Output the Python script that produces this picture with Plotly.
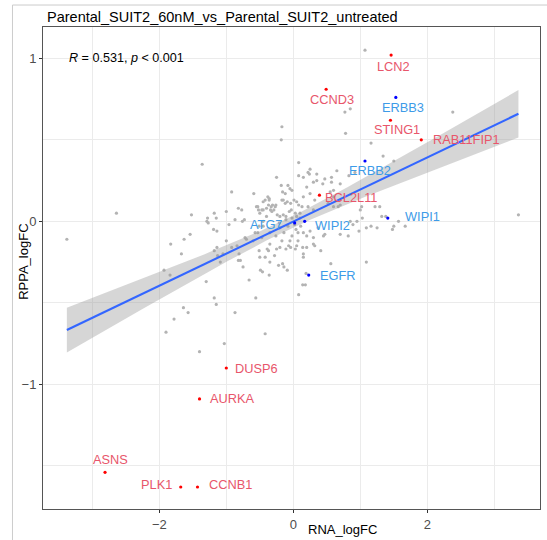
import numpy as np
import plotly.graph_objects as go

# ---------------- data ----------------
title_text = "Parental_SUIT2_60nM_vs_Parental_SUIT2_untreated"
x_title = "RNA_logFC"
y_title = "RPPA_logFC"
x_ticks = [-2, 0, 2]
y_ticks = [-1, 0, 1]

# background (unlabelled) proteins: RNA logFC / RPPA logFC
rna_bg = [
    -3.38, -2.64, -1.52, -1.63, -1.54, -1.83, -1.67, -1.93, -1.84, -1.64, -1.57, -1.78, -1.15, -0.87,
    -1.90, -1.40, -1.03, -0.42, -1.30, -1.18, -0.56, -0.66, -0.75, -0.82, -0.79, -1.09, -1.18, -1.13,
    -1.00, -0.92, -0.84, -1.19, -1.14, -0.96, -1.29, -0.87, -0.73, -0.76, -0.70, -0.51, -0.49, -0.46,
    -0.35, -0.42, -0.39, -0.35, -0.22, -0.16, -0.14, -0.09, -0.28, -0.25, -0.20, 0.08,
    -0.17, -0.18, -1.36, 0.08, 0.08, -0.25, -0.18, -0.08, -0.05, -0.02, -0.92, -0.59, -0.38, -0.36,
    -0.16, -0.12, -0.42, -0.53, -0.47, -0.45, -0.82, -1.00, -1.18, -1.28,
    1.07, 0.77, 0.85, 0.78, 2.38, 3.36, 1.67, 1.16, 1.34, 1.50, 0.92, 0.65, 0.57, 0.83, 0.25, 0.24,
    0.35, 0.44, 0.55, 0.60, 1.02, 1.22, 1.29, 0.52, 0.60, 0.70, 0.95, 0.89, 1.09, 1.25, 1.16, 1.50,
    0.82, 0.70, 0.56, 1.09, 0.19, 0.14, 0.18, 0.98, 1.03, 1.32, 1.38, 1.57, 1.48, 0.41,
    -0.17, -0.15, -0.12, -0.09, -0.04, 0.01, 0.05, 0.08, -0.37, -0.33, -0.34, -0.26, -0.29, -0.50,
    -0.40, -0.32, -0.24, -0.20, -0.15, -0.11, -0.06, -0.02, 0.03, 0.05,
    -0.11, -0.07, -0.04, 0.03, 0.05, -0.20, -0.14, -0.08, -0.02, -0.26, -0.35, -0.17, -0.05, 0.07,
    0.07, -0.11, -0.21, -0.45, -0.53, -0.60, -0.47,
    0.30, 0.32, 0.20, 0.14, 0.15, 0.15, 0.45, 0.47, 0.30, 0.37, 0.15, 0.20, 0.25, 0.85,
    0.15, 0.22, 0.35, 0.20, 0.30, 0.47, 0.57, 0.15, 0.25, 0.32, 0.60, 0.70, 0.13, 0.22, 0.30, 0.67,
    1.00,
    -0.36, -0.45, -0.55, -0.31, -0.27, -0.40, -0.52, -0.77, -1.15, -1.27, -1.14, -1.05, -0.81,
    -0.72, -0.57, -0.51, -0.45, -0.50, -0.36, -0.37,
    0.02, 0.10, 0.11, -0.03, 0.04, 0.10,
]
rppa_bg = [
    -0.11, 0.05, 0.04, -0.11, -0.08, -0.14, -0.20, -0.30, -0.33, -0.53, -0.56, -0.60, -0.51, -0.56,
    -0.68, -0.80, -0.75, -0.69, -0.37, -0.47, -0.47, -0.36, -0.28, -0.24, -0.24, -0.25, -0.18, -0.21,
    -0.12, -0.16, -0.15, -0.05, -0.06, -0.02, 0.00, 0.01, 0.01, 0.00, -0.11, -0.18, -0.30, -0.31,
    -0.25, -0.22, -0.17, -0.14, -0.27, -0.26, -0.28, -0.30, -0.21, -0.17, -0.16, -0.45,
    0.58, 0.50, 0.35, 0.36, 0.28, 0.27, 0.22, 0.22, 0.20, 0.19, 0.18, 0.17, 0.15, 0.14,
    0.18, 0.17, 0.13, 0.09, 0.07, 0.07, 0.08, 0.06, 0.05, 0.02,
    1.05, 0.67, 0.69, 0.54, 0.67, 0.04, -0.03, 0.48, 0.40, 0.37, 0.30, 0.31, 0.24, 0.28, 0.32, 0.29,
    0.25, 0.23, 0.18, 0.15, 0.09, 0.09, 0.09, 0.11, 0.09, 0.10, 0.00, -0.02, -0.04, -0.04, -0.03, -0.03,
    -0.09, -0.08, -0.26, -0.25, -0.32, -0.39, -0.39, -0.06, 0.02, 0.03, 0.03, 0.00, -0.05, -0.18,
    0.13, 0.13, 0.11, 0.12, 0.11, 0.13, 0.12, 0.10, 0.10, 0.09, 0.07, 0.10, 0.07, 0.05,
    0.03, 0.06, 0.04, 0.03, 0.04, 0.03, 0.06, 0.02, 0.05, 0.03,
    -0.17, -0.15, -0.16, -0.17, -0.15, -0.04, -0.07, -0.03, -0.09, -0.09, -0.07, -0.12, -0.12, -0.07,
    -0.12, 0.01, -0.01, -0.03, -0.07, -0.12, -0.10,
    -0.14, -0.15, -0.16, -0.16, -0.20, -0.22, -0.09, -0.08, -0.10, -0.04, -0.07, -0.09, -0.06, 0.00,
    0.27, 0.30, 0.29, 0.21, 0.24, 0.26, 0.27, 0.15, 0.17, 0.13, 0.19, 0.23, 0.09, 0.09, 0.07, 0.09,
    0.07,
    0.13, 0.12, 0.09, 0.10, 0.09, 0.08, 0.07, 0.07, 0.02, -0.01, -0.16, -0.20, -0.20,
    -0.10, -0.07, -0.03, 0.00, -0.22, -0.33, -0.18,
    -0.02, 0.02, -0.03, 0.07, -0.05, 0.05,
]

# highlighted proteins
red_genes = ["LCN2", "CCND3", "STING1", "RAB11FIP1", "BCL2L11", "DUSP6", "AURKA", "ASNS", "PLK1", "CCNB1"]
red_rna = [1.46, 0.49, 1.45, 1.91, 0.39, -1.00, -1.40, -2.81, -1.68, -1.43]
red_rppa = [1.02, 0.81, 0.62, 0.50, 0.16, -0.90, -1.09, -1.54, -1.63, -1.63]

blue_genes = ["ERBB3", "ERBB2", "WIPI1", "WIPI2", "EGFR", "ATG7"]
blue_rna = [1.53, 1.07, 1.41, 0.17, 0.23, 0.02]
blue_rppa = [0.76, 0.37, 0.02, 0.00, -0.33, -0.01]

stat_label = "<i>R</i> = 0.531, <i>p</i> < 0.001"

# ---------------- styling ----------------
# label placement (pixel shifts & anchor), purely presentational
label_style = {
    "LCN2": ("center", 2, -11), "CCND3": ("center", 6, -10), "ERBB3": ("center", 7, -10),
    "STING1": ("center", 7, -9), "RAB11FIP1": ("left", 10, 0), "ERBB2": ("center", 5, -10),
    "BCL2L11": ("left", 4, -2), "WIPI1": ("left", 15, 2), "WIPI2": ("left", 8, -4),
    "EGFR": ("left", 9, 0), "ATG7": ("right", -11, -2), "DUSP6": ("left", 7, 0),
    "AURKA": ("left", 8, 0), "ASNS": ("center", 5, 13), "PLK1": ("right", -7, 2),
    "CCNB1": ("left", 9, 2),
}
RED_PT, BLUE_PT = "#FF0000", "#0000FF"
RED_TXT, BLUE_TXT = "#E8566B", "#3D9BE8"
FONT = "Liberation Sans, Arial, sans-serif"

# ---------------- regression ----------------
all_x = np.array(rna_bg + red_rna + blue_rna)
all_y = np.array(rppa_bg + red_rppa + blue_rppa)
n = len(all_x)
slope, intercept = np.polyfit(all_x, all_y, 1)
xs = np.linspace(all_x.min(), all_x.max(), 80)
fit = intercept + slope * xs
resid = all_y - (intercept + slope * all_x)
s = np.sqrt(np.sum(resid ** 2) / (n - 2))
xbar = all_x.mean()
sxx = np.sum((all_x - xbar) ** 2)
se = s * np.sqrt(1.0 / n + (xs - xbar) ** 2 / sxx)
tval = 1.97
lo, hi = fit - tval * se, fit + tval * se

fig = go.Figure()
fig.add_trace(go.Scatter(x=rna_bg, y=rppa_bg, mode="markers",
                         marker=dict(size=3.2, color="#B3B3B3"), hoverinfo="skip"))
fig.add_trace(go.Scatter(x=np.concatenate([xs, xs[::-1]]), y=np.concatenate([hi, lo[::-1]]),
                         fill="toself", fillcolor="rgba(153,153,153,0.4)", line=dict(width=0),
                         mode="lines", hoverinfo="skip"))
fig.add_trace(go.Scatter(x=xs, y=fit, mode="lines", line=dict(color="#3366FF", width=2.1),
                         hoverinfo="skip"))
fig.add_trace(go.Scatter(x=red_rna, y=red_rppa, mode="markers",
                         marker=dict(size=3.2, color=RED_PT)))
fig.add_trace(go.Scatter(x=blue_rna, y=blue_rppa, mode="markers",
                         marker=dict(size=3.2, color=BLUE_PT)))

annotations = []
for genes, xv, yv, col in [(red_genes, red_rna, red_rppa, RED_TXT),
                           (blue_genes, blue_rna, blue_rppa, BLUE_TXT)]:
    for g, gx, gy in zip(genes, xv, yv):
        anc, dx, dy = label_style[g]
        annotations.append(dict(x=gx, y=gy, xref="x", yref="y", text=g, showarrow=False,
                                xanchor=anc, yanchor="middle", xshift=dx, yshift=dy,
                                font=dict(family=FONT, size=12.8, color=col)))

annotations += [
    dict(x=0.004, y=1.0214, xref="paper", yref="paper", text=title_text, showarrow=False,
         xanchor="left", yanchor="middle", font=dict(family=FONT, size=14.5, color="#000000")),
    dict(x=0.0477, y=0.9367, xref="paper", yref="paper", text=stat_label, showarrow=False,
         xanchor="left", yanchor="middle", font=dict(family=FONT, size=12.6, color="#000000")),
    dict(x=0.603, y=-0.0415, xref="paper", yref="paper", text=x_title, showarrow=False,
         xanchor="center", yanchor="middle", font=dict(family=FONT, size=13, color="#000000")),
    dict(x=-0.0396, y=0.5135, xref="paper", yref="paper", text=y_title, showarrow=False,
         textangle=-90, xanchor="center", yanchor="middle",
         font=dict(family=FONT, size=13, color="#000000")),
]

shapes = [
    dict(type="line", xref="paper", yref="paper", x0=-0.0614, x1=-0.0614, y0=-0.07, y1=1.0456,
         line=dict(color="#CCCCCC", width=1)),
    dict(type="line", xref="paper", yref="paper", x0=-0.0614, x1=1.02, y0=1.0456, y1=1.0456,
         line=dict(color="#CCCCCC", width=1)),
]

axis_common = dict(showgrid=True, gridcolor="#EBEBEB", gridwidth=1, zeroline=False,
                   showline=True, mirror=True, linecolor="#555555", linewidth=1,
                   ticks="outside", ticklen=3, tickcolor="#333333", tickwidth=1,
                   tickfont=dict(family=FONT, size=13, color="#4D4D4D"))

fig.update_layout(
    width=547, height=540,
    margin=dict(l=43, r=7, t=27, b=31),
    paper_bgcolor="white", plot_bgcolor="white",
    showlegend=False,
    annotations=annotations,
    shapes=shapes,
    xaxis=dict(range=[-3.736, 3.682], tickvals=x_ticks,
               minor=dict(dtick=1, tick0=0, showgrid=True, gridcolor="#EBEBEB", gridwidth=0.6, ticks=""),
               **axis_common),
    yaxis=dict(range=[-1.765, 1.192], tickvals=y_ticks,
               minor=dict(dtick=0.5, tick0=0, showgrid=True, gridcolor="#EBEBEB", gridwidth=0.6, ticks=""),
               **axis_common),
)

fig.write_html("out.html", config={"displayModeBar": False},
               post_script="document.body.style.margin='0';document.body.style.overflow='hidden';")
